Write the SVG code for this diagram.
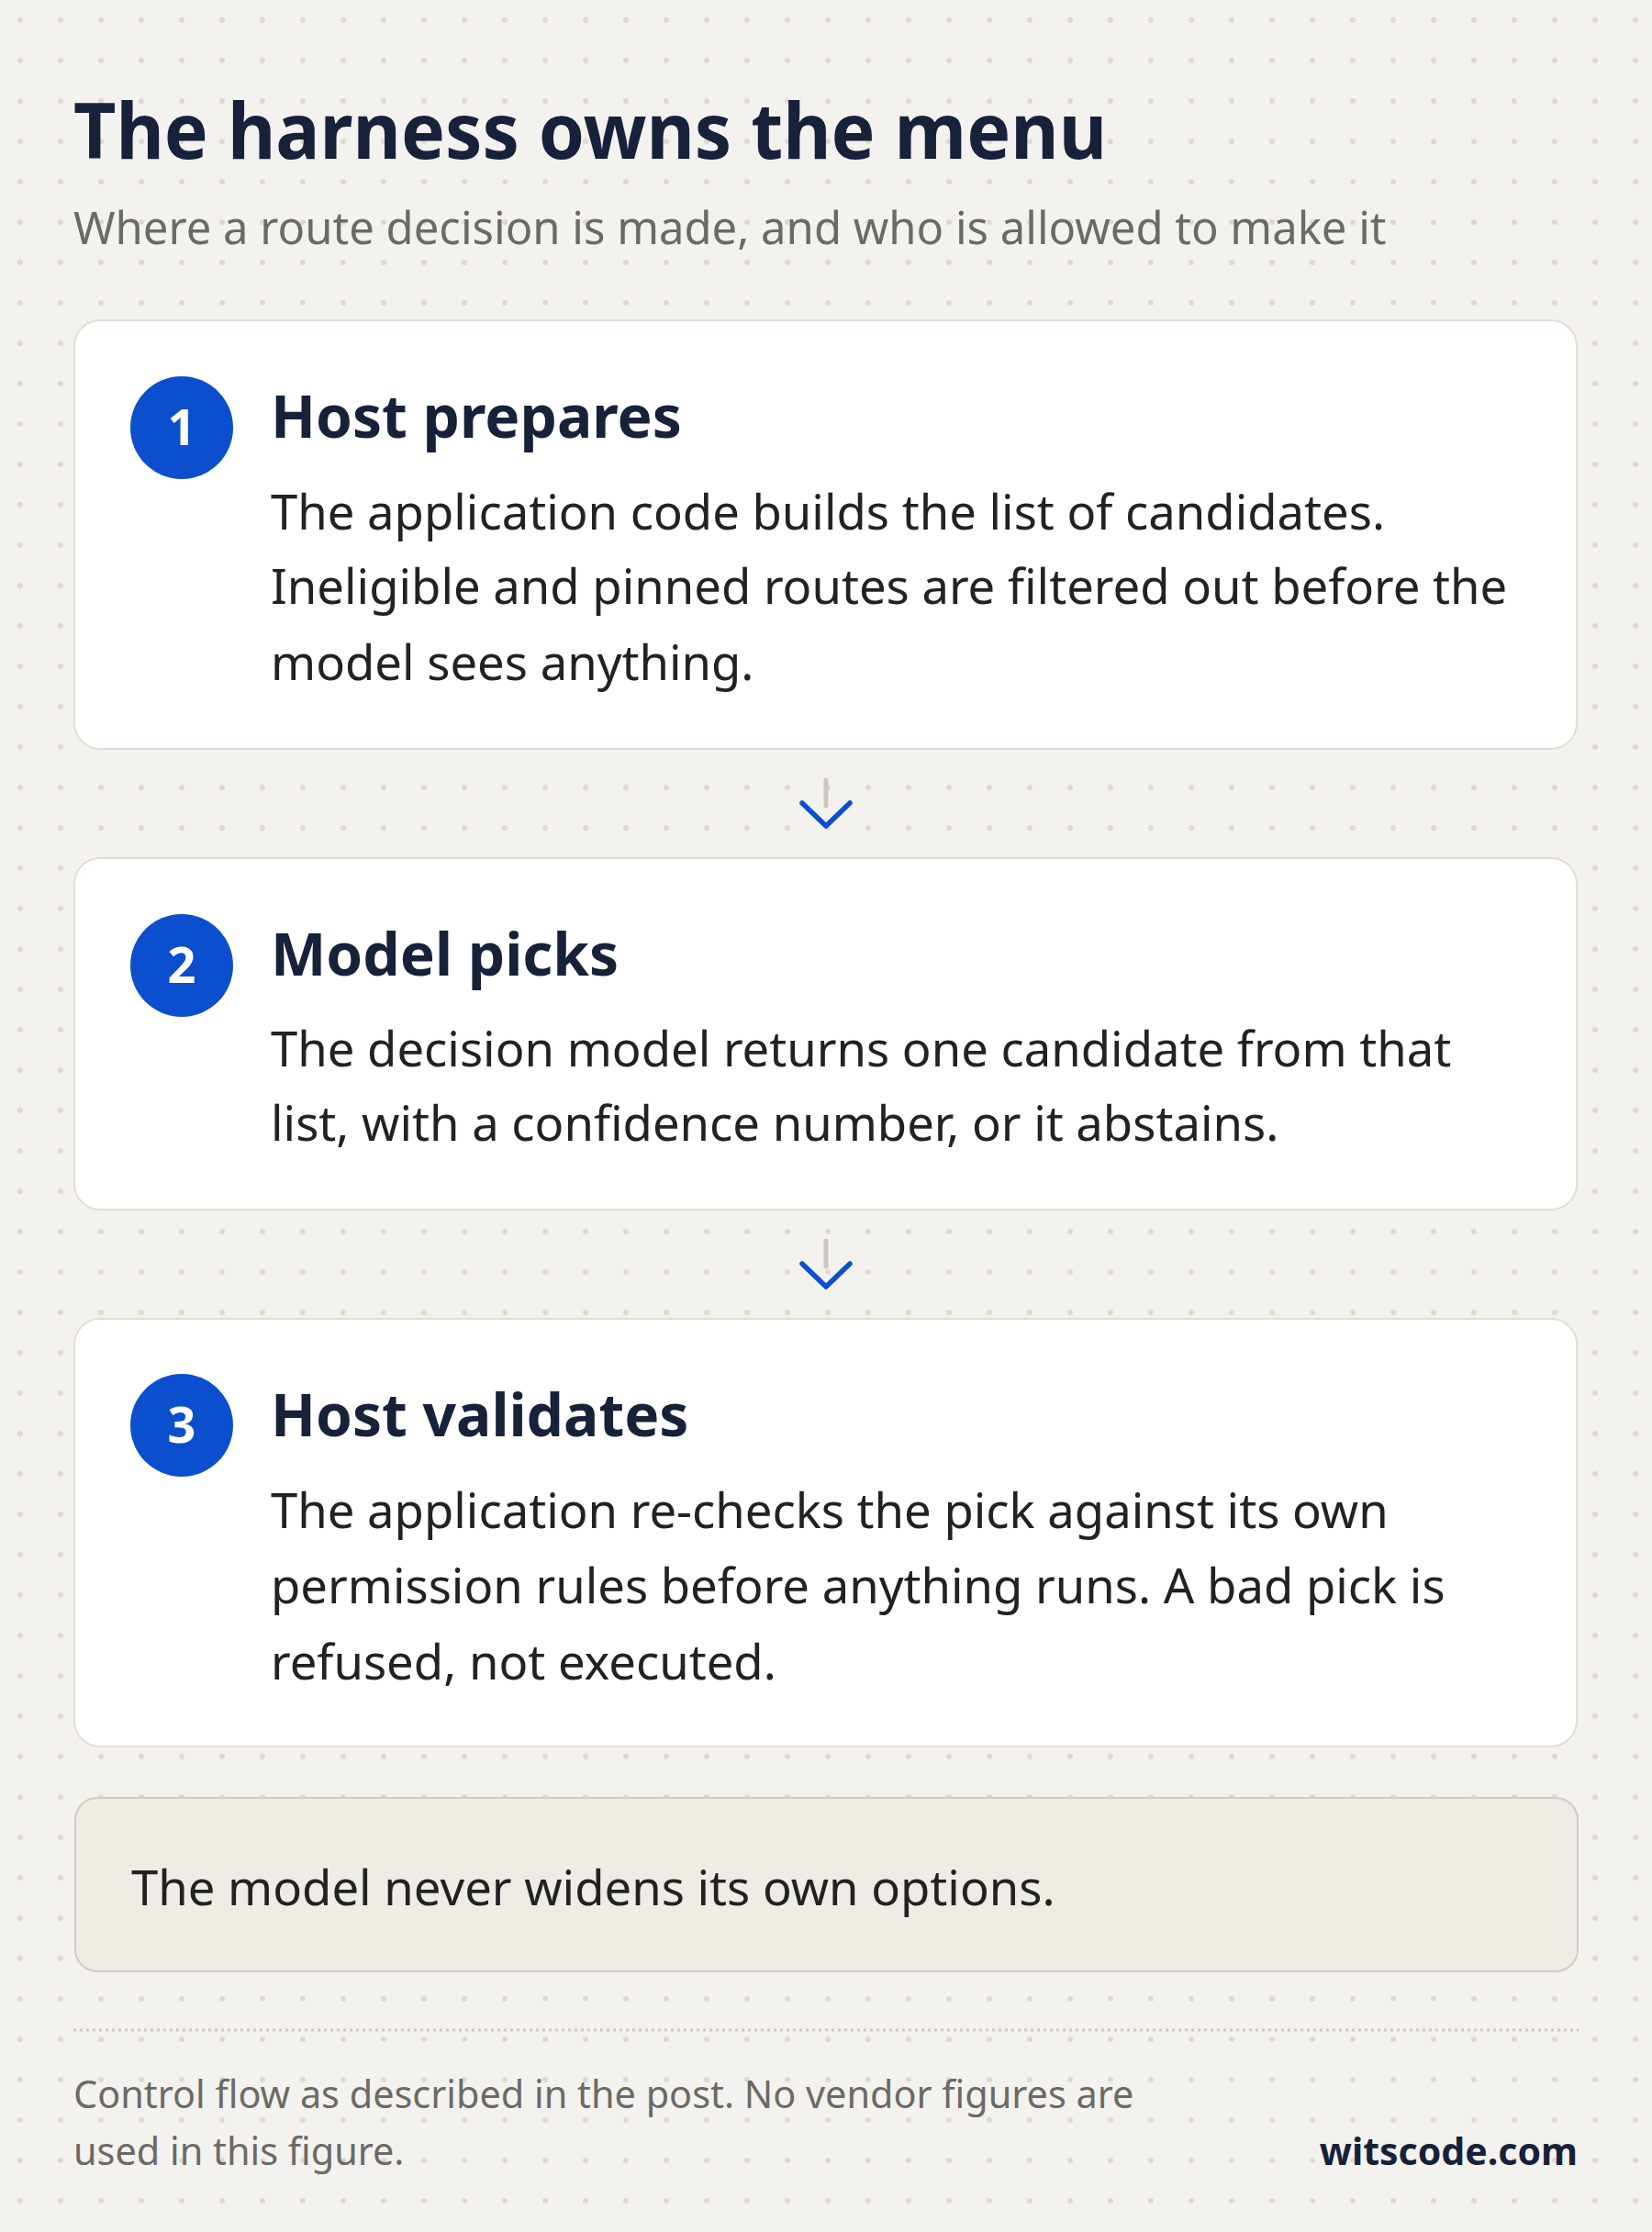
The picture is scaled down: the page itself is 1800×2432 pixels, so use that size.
<svg xmlns="http://www.w3.org/2000/svg" width="1800" height="2432" viewBox="0 0 1800 2432">
  <defs>
    <pattern id="dots" x="0" y="0" width="44" height="44" patternUnits="userSpaceOnUse">
      <circle cx="22" cy="22" r="3" fill="#dedad1"/>
    </pattern>
    <style>
      text { font-family: "Noto Sans", "Open Sans", sans-serif; }
      .title { font-size: 84px; font-weight: 700; fill: #16213a; }
      .subtitle { font-size: 49px; fill: #6b6a65; }
      .card { fill: #ffffff; stroke: #e3ded4; stroke-width: 2; }
      .badge { fill: #0b4fcf; }
      .num { font-size: 54px; font-weight: 700; fill: #ffffff; text-anchor: middle; }
      .head { font-size: 64px; font-weight: 700; fill: #16213a; }
      .body { font-size: 52.6px; fill: #222222; }
      .callout { fill: #efece5; stroke: #d3cbbe; stroke-width: 2; }
      .foot { font-size: 41.4px; fill: #6b6a65; }
      .brand { font-size: 41px; font-weight: 700; fill: #16213a; text-anchor: end; }
      .stem { stroke: #cec6b9; stroke-width: 5; stroke-linecap: round; fill: none; }
      .chev { stroke: #0b4fcf; stroke-width: 5.5; stroke-linecap: round; stroke-linejoin: round; fill: none; }
    </style>
  </defs>

  <rect x="0" y="0" width="1800" height="2432" fill="#f4f2ee"/>
  <rect x="0" y="0" width="1800" height="2432" fill="url(#dots)"/>

  <g id="header">
    <text class="title" x="80" y="173" textLength="1126" lengthAdjust="spacingAndGlyphs">The harness owns the menu</text>
    <text class="subtitle" x="80" y="266">Where a route decision is made, and who is allowed to make it</text>
  </g>

  <g id="step1">
    <rect class="card" x="81" y="349" width="1637" height="467" rx="28"/>
    <circle class="badge" cx="198" cy="466" r="56"/>
    <text class="num" x="198" y="485">1</text>
    <text class="head" x="295" y="477">Host prepares</text>
    <text class="body" x="295" y="577">The application code builds the list of candidates.</text>
    <text class="body" x="295" y="658">Ineligible and pinned routes are filtered out before the</text>
    <text class="body" x="295" y="741">model sees anything.</text>
  </g>

  <g id="step2">
    <rect class="card" x="81" y="935" width="1637" height="383" rx="28"/>
    <circle class="badge" cx="198" cy="1052" r="56"/>
    <text class="num" x="198" y="1071">2</text>
    <text class="head" x="295" y="1063">Model picks</text>
    <text class="body" x="295" y="1162">The decision model returns one candidate from that</text>
    <text class="body" x="295" y="1243">list, with a confidence number, or it abstains.</text>
  </g>

  <g id="step3">
    <rect class="card" x="81" y="1437" width="1637" height="466" rx="28"/>
    <circle class="badge" cx="198" cy="1553" r="56"/>
    <text class="num" x="198" y="1572">3</text>
    <text class="head" x="295" y="1565">Host validates</text>
    <text class="body" x="295" y="1665">The application re-checks the pick against its own</text>
    <text class="body" x="295" y="1747">permission rules before anything runs. A bad pick is</text>
    <text class="body" x="295" y="1830">refused, not executed.</text>
  </g>

  <g id="connectors">
    <line class="stem" x1="900" y1="850" x2="900" y2="878"/>
    <polyline class="chev" points="874,875 900,900 926,875"/>
    <line class="stem" x1="900" y1="1352" x2="900" y2="1380"/>
    <polyline class="chev" points="874,1377 900,1402 926,1377"/>
  </g>

  <g id="note">
    <rect class="callout" x="82" y="1959" width="1637" height="189" rx="24"/>
    <text class="body" x="143" y="2076">The model never widens its own options.</text>
  </g>

  <g id="footer">
    <line x1="80" y1="2212" x2="1720" y2="2212" stroke="#cfc8bc" stroke-width="3" stroke-dasharray="3 4"/>
    <text class="foot" x="80" y="2297">Control flow as described in the post. No vendor figures are</text>
    <text class="foot" x="80" y="2359">used in this figure.</text>
    <text class="brand" x="1719" y="2359">witscode.com</text>
  </g>
</svg>
